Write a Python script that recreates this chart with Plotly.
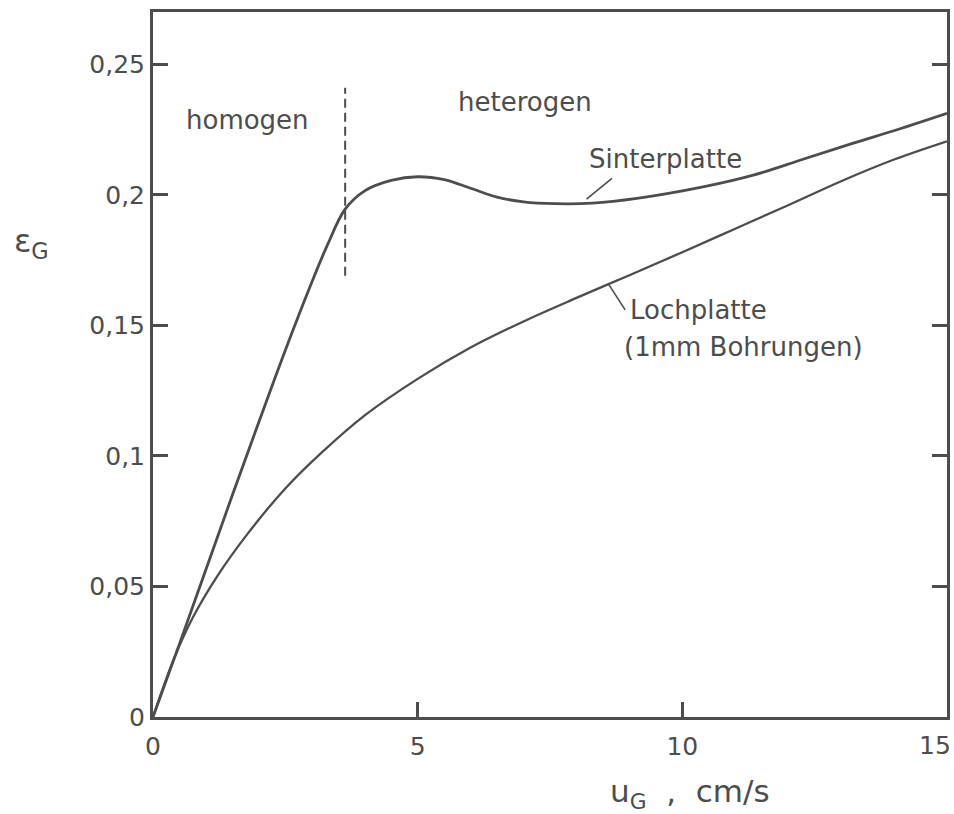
import plotly.graph_objects as go

# Gas holdup eps_G versus superficial gas velocity u_G (cm/s)
sinter_u = [0, 0.5, 1.0, 1.5, 2.0, 2.5, 3.0, 3.3, 3.63, 4.0, 4.5, 5.0,
            5.5, 6.0, 6.5, 7.0, 7.6, 8.3, 9.14, 10.39, 11.34, 12.28, 13.2, 14.1, 15.0]
sinter_eps = [0, 0.028, 0.0565, 0.085, 0.113, 0.1405, 0.1665, 0.181, 0.1945, 0.2015,
              0.2055, 0.2069, 0.2058, 0.2025, 0.1991, 0.1973, 0.1966, 0.1968, 0.1986,
              0.203, 0.2075, 0.2136, 0.2196, 0.2252, 0.2312]

loch_u = [0, 0.4, 0.75, 1.2, 1.8, 2.5, 3.2, 4.0, 5.0, 6.0, 7.0, 8.0, 9.0, 10.0,
          11.0, 12.0, 13.0, 14.0, 15.0]
loch_eps = [0, 0.0225, 0.038, 0.0535, 0.0705, 0.0875, 0.1015, 0.1155, 0.1295, 0.1415,
            0.1515, 0.1605, 0.1692, 0.178, 0.187, 0.196, 0.2052, 0.2135, 0.2205]

# regime boundary homogeneous / heterogeneous
transition_u = 3.63
transition_eps = [0.169, 0.241]

x_ticks = [0, 5, 10, 15]
x_tick_text = ["0", "5", "10", "15"]
y_ticks = [0, 0.05, 0.1, 0.15, 0.2, 0.25]
y_tick_text = ["0", "0,05", "0,1", "0,15", "0,2", "0,25"]

INK = "#4d4d4d"
FONT = "DejaVu Sans"
TICK_FONT = dict(family=FONT, size=25, color=INK)

fig = go.Figure()

fig.add_trace(go.Scatter(x=sinter_u, y=sinter_eps, mode="lines",
                         line=dict(color=INK, width=2.8, shape="spline", smoothing=1.0),
                         hoverinfo="skip"))
fig.add_trace(go.Scatter(x=loch_u, y=loch_eps, mode="lines",
                         line=dict(color=INK, width=2.3, shape="spline", smoothing=1.0),
                         hoverinfo="skip"))
fig.add_trace(go.Scatter(x=[transition_u, transition_u], y=transition_eps, mode="lines",
                         line=dict(color=INK, width=2, dash="9px,5px"),
                         hoverinfo="skip"))

# leader lines from the labels to the curves
fig.add_trace(go.Scatter(x=[8.19, 8.67], y=[0.1983, 0.2063], mode="lines",
                         line=dict(color=INK, width=1.6), hoverinfo="skip"))
fig.add_trace(go.Scatter(x=[8.6, 8.92], y=[0.1660, 0.1559], mode="lines",
                         line=dict(color=INK, width=1.6), hoverinfo="skip"))

label_font = dict(family=FONT, size=26, color=INK)
fig.add_annotation(x=1.78, y=0.2285, text="homogen", showarrow=False, font=label_font)
fig.add_annotation(x=7.03, y=0.2355, text="heterogen", showarrow=False, font=label_font)
fig.add_annotation(x=9.68, y=0.2138, text="Sinterplatte", showarrow=False, font=label_font)
fig.add_annotation(x=8.98, y=0.1557, text="Lochplatte", showarrow=False,
                   xanchor="left", font=label_font)
fig.add_annotation(x=8.86, y=0.1418, text="(1mm Bohrungen)", showarrow=False,
                   xanchor="left", font=label_font)

# the last x tick label sits flush with the right page edge
fig.add_annotation(x=x_ticks[-1], y=0, xref="x", yref="paper", yanchor="top",
                   xanchor="right", xshift=6, yshift=-12, text=x_tick_text[-1],
                   showarrow=False, font=TICK_FONT)

# axis titles
fig.add_annotation(x=10.15, y=-0.108, xref="x", yref="paper", yanchor="middle",
                   text="u<sub>G</sub>\u00a0\u00a0,\u00a0\u00a0cm/s", showarrow=False,
                   font=dict(family=FONT, size=31, color=INK))
fig.add_annotation(x=-0.1776, y=0.705, xref="paper", yref="paper", xanchor="left",
                   text="ε<sub>G</sub>", showarrow=False,
                   font=dict(family=FONT, size=32, color=INK))

fig.update_xaxes(range=[0, 15], tickvals=x_ticks,
                 ticktext=x_tick_text[:-1] + [""],
                 ticks="inside", ticklen=15, tickwidth=2.5, tickcolor=INK,
                 ticklabelstandoff=5, automargin=False,
                 showline=True, linecolor=INK, linewidth=3, mirror=True,
                 showgrid=False, zeroline=False, tickfont=TICK_FONT)
fig.update_yaxes(range=[0, 0.27], tickvals=y_ticks, ticktext=y_tick_text,
                 ticks="inside", ticklen=15, tickwidth=2.5, tickcolor=INK,
                 automargin=False,
                 showline=True, linecolor=INK, linewidth=3, mirror="ticks",
                 showgrid=False, zeroline=False, tickfont=TICK_FONT)

fig.update_layout(width=954, height=814,
                  margin=dict(l=153, r=7, t=12, b=97),
                  paper_bgcolor="white", plot_bgcolor="white",
                  showlegend=False)

fig.write_html("out.html")
